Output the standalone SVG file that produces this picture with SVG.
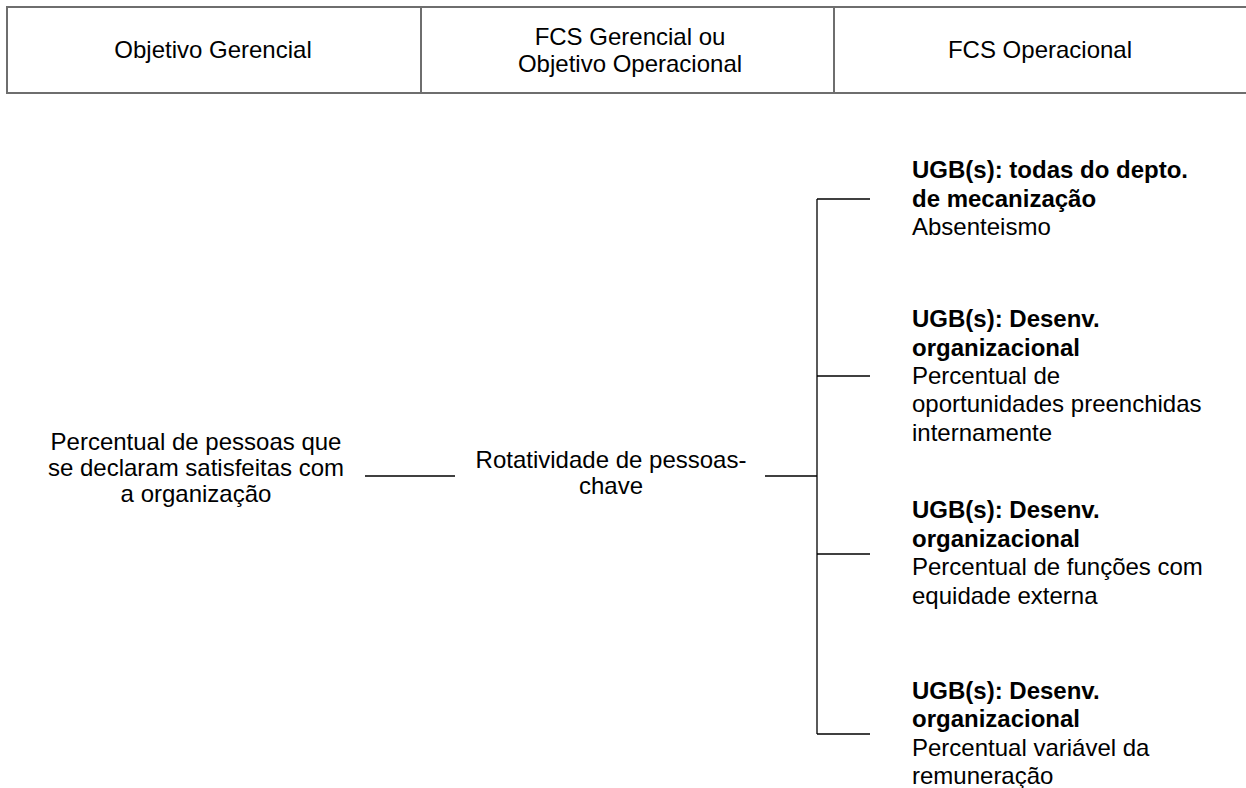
<svg xmlns="http://www.w3.org/2000/svg" width="1246" height="788" viewBox="0 0 1246 788">
<style>
text{font-family:"Liberation Sans",Arial,sans-serif;font-size:24px;fill:#000}
.c{text-anchor:middle}
.b{font-weight:bold}
.hdr{fill:#fff;stroke:#6e6e6e;stroke-width:2}
.ln{stroke:#000;stroke-width:1.3;fill:none}
</style>
<rect width="1246" height="788" fill="#fff"/>
<g id="header">
<rect class="hdr" x="7" y="7" width="1250" height="86"/>
<line class="hdr" x1="421" y1="7" x2="421" y2="93"/>
<line class="hdr" x1="834" y1="7" x2="834" y2="93"/>
<text class="c" x="213" y="58">Objetivo Gerencial</text>
<text class="c" x="630" y="45">FCS Gerencial ou</text>
<text class="c" x="630" y="72">Objetivo Operacional</text>
<text class="c" x="1040" y="58">FCS Operacional</text>
</g>
<g id="connectors">
<line class="ln" x1="365" y1="476" x2="455" y2="476"/>
<line class="ln" x1="765" y1="476" x2="817" y2="476"/>
<line class="ln" x1="817" y1="199" x2="817" y2="734"/>
<line class="ln" x1="817" y1="199" x2="870" y2="199"/>
<line class="ln" x1="817" y1="376" x2="870" y2="376"/>
<line class="ln" x1="817" y1="554" x2="870" y2="554"/>
<line class="ln" x1="817" y1="734" x2="870" y2="734"/>
</g>
<g id="node-objetivo">
<text class="c" x="196" y="450">Percentual de pessoas que</text>
<text class="c" x="196" y="476">se declaram satisfeitas com</text>
<text class="c" x="196" y="502">a organização</text>
</g>
<g id="node-fcs">
<text class="c" x="611" y="468">Rotatividade de pessoas-</text>
<text class="c" x="611" y="494">chave</text>
</g>
<g id="node-op1">
<text class="b" x="912" y="178">UGB(s): todas do depto.</text>
<text class="b" x="912" y="207">de mecanização</text>
<text x="912" y="235">Absenteismo</text>
</g>
<g id="node-op2">
<text class="b" x="912" y="327">UGB(s): Desenv.</text>
<text class="b" x="912" y="356">organizacional</text>
<text x="912" y="384">Percentual de</text>
<text x="912" y="412">oportunidades preenchidas</text>
<text x="912" y="441">internamente</text>
</g>
<g id="node-op3">
<text class="b" x="912" y="518">UGB(s): Desenv.</text>
<text class="b" x="912" y="547">organizacional</text>
<text x="912" y="575">Percentual de funções com</text>
<text x="912" y="604">equidade externa</text>
</g>
<g id="node-op4">
<text class="b" x="912" y="699">UGB(s): Desenv.</text>
<text class="b" x="912" y="727">organizacional</text>
<text x="912" y="756">Percentual variável da</text>
<text x="912" y="784">remuneração</text>
</g>
</svg>
